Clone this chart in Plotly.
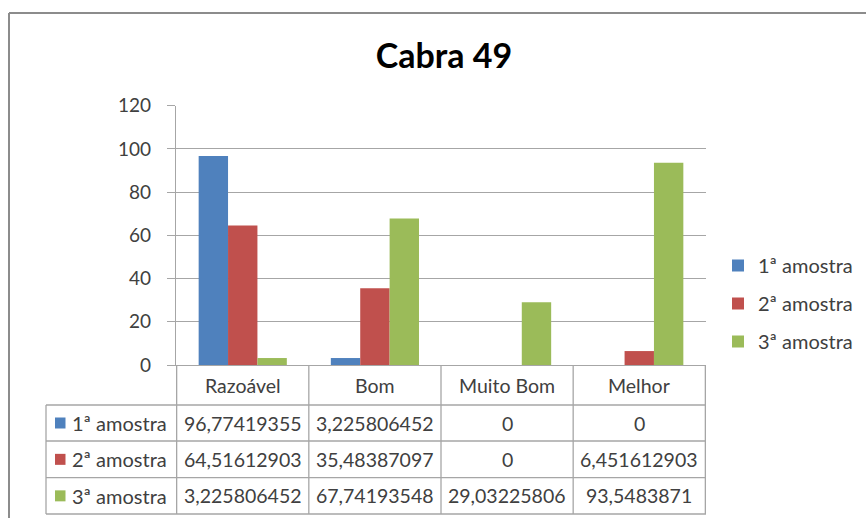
import plotly.graph_objects as go

# Data
categories = ["Razoável", "Bom", "Muito Bom", "Melhor"]
series_names = ["1ª amostra", "2ª amostra", "3ª amostra"]
amostra_1 = [96.77419355, 3.225806452, 0, 0]
amostra_2 = [64.51612903, 35.48387097, 0, 6.451612903]
amostra_3 = [3.225806452, 67.74193548, 29.03225806, 93.5483871]
series_values = [amostra_1, amostra_2, amostra_3]
colors = ["#4F81BD", "#C0504D", "#9BBB59"]
y_ticks = [0, 20, 40, 60, 80, 100, 120]

W, H = 866, 518
FONT = "Lato"
TEXT = "#404040"
LINE = "#a6a6a6"


def px(x):
    return x / W


def py(y):
    return 1 - y / H


def fmt(v):
    return format(v, ".10g").replace(".", ",")


fig = go.Figure()
for i, (name, vals) in enumerate(zip(series_names, series_values)):
    fig.add_trace(go.Bar(
        x=categories, y=vals, name=name,
        marker=dict(color=colors[i], line=dict(width=0)),
        legendgroup=name,
    ))

# plot area geometry
x0, x1 = 176, 706
y_top, y_axis = 105.7, 365
row_lines = [405, 441, 477.7, 514]
table_left = 46

shapes = []
# chart area frame
shapes.append(dict(type="line", xref="paper", yref="paper",
                   x0=px(9), x1=1.0, y0=py(13), y1=py(13),
                   line=dict(color="#8c8c8c", width=2)))
shapes.append(dict(type="line", xref="paper", yref="paper",
                   x0=px(9), x1=px(9), y0=py(13), y1=0,
                   line=dict(color="#8c8c8c", width=2)))

# data table grid: horizontal rules
for ry in row_lines:
    shapes.append(dict(type="line", xref="paper", yref="paper",
                       x0=px(table_left), x1=px(x1), y0=py(ry), y1=py(ry),
                       line=dict(color=LINE, width=1.3)))
# left edge of the row-header column
shapes.append(dict(type="line", xref="paper", yref="paper",
                   x0=px(table_left), x1=px(table_left),
                   y0=py(row_lines[0]), y1=py(row_lines[-1]),
                   line=dict(color=LINE, width=1.3)))
# category boundaries run down through the table
for b in [-0.5, 0.5, 1.5, 2.5, 3.5]:
    shapes.append(dict(type="line", xref="x", yref="paper",
                       x0=b, x1=b, y0=py(y_axis), y1=py(row_lines[-1]),
                       line=dict(color=LINE, width=1.3)))

annotations = []
# category header row
for c in categories:
    annotations.append(dict(x=c, xref="x", y=py((y_axis + row_lines[0]) / 2),
                            yref="paper", text=c, showarrow=False,
                            font=dict(family=FONT, size=19.5, color=TEXT),
                            xanchor="center", yanchor="middle"))

# table body
row_tops = [row_lines[0], row_lines[1], row_lines[2]]
row_bots = [row_lines[1], row_lines[2], row_lines[3]]
for i, (name, vals) in enumerate(zip(series_names, series_values)):
    yc = (row_tops[i] + row_bots[i]) / 2
    # legend key
    shapes.append(dict(type="rect", xref="paper", yref="paper",
                       x0=px(55), x1=px(65.5), y0=py(yc - 5.5), y1=py(yc + 5.5),
                       fillcolor=colors[i], line=dict(width=0)))
    annotations.append(dict(x=px(70), xref="paper", y=py(yc), yref="paper",
                            text=name, showarrow=False,
                            font=dict(family=FONT, size=20, color=TEXT),
                            xanchor="left", yanchor="middle"))
    for c, v in zip(categories, vals):
        annotations.append(dict(x=c, xref="x", y=py(yc), yref="paper",
                                text=fmt(v), showarrow=False,
                                font=dict(family=FONT, size=19.5, color=TEXT),
                                xanchor="center", yanchor="middle"))

fig.update_layout(
    width=W, height=H,
    margin=dict(l=0, r=0, t=0, b=0, pad=0, autoexpand=False),
    paper_bgcolor="white", plot_bgcolor="white",
    title=dict(text="<b>Cabra 49</b>", x=px(444), xanchor="center",
               y=py(56), yanchor="middle",
               font=dict(family=FONT, size=34, color="black")),
    barmode="group", bargap=0.333, bargroupgap=0,
    xaxis=dict(domain=[px(x0), px(x1)], showticklabels=False, ticks="",
               showgrid=False, showline=True, linecolor=LINE, linewidth=1.3,
               zeroline=False, fixedrange=True, automargin=False),
    yaxis=dict(domain=[py(y_axis), py(y_top)], range=[0, 120],
               tickvals=y_ticks, ticks="outside", ticklen=8, tickcolor=LINE,
               tickwidth=1.3, showline=True, linecolor=LINE, linewidth=1.3,
               gridcolor=LINE, gridwidth=1.3, zeroline=False,
               ticklabelstandoff=12, automargin=False,
               tickfont=dict(family=FONT, size=19, color=TEXT)),
    legend=dict(x=px(718), xanchor="left", y=py(246), yanchor="top",
                font=dict(family=FONT, size=20, color=TEXT),
                traceorder="grouped", tracegroupgap=9,
                bgcolor="rgba(0,0,0,0)"),
    shapes=shapes,
    annotations=annotations,
)

fig.write_html("out.html")
